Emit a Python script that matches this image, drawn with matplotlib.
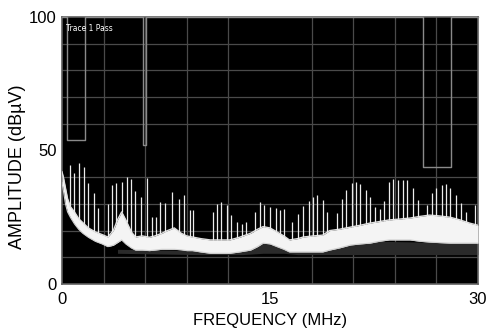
import numpy as np
import matplotlib
matplotlib.use("Agg")
import matplotlib.pyplot as plt

# ---- data ----
band_f = [0, 0.1, 0.25, 0.4, 0.6, 0.9, 1.2, 1.5, 1.9, 2.4, 2.9, 3.3, 3.7, 4.0, 4.3, 4.6,
          5.0, 5.3, 5.8, 6.3, 6.7, 7.2, 7.6, 8.1, 8.6, 9.0, 9.4, 10.0, 10.7, 11.4, 12.1,
          12.8, 13.6, 14.1, 14.5, 15.0, 15.5, 16.0, 16.4, 17.0, 17.4, 18.1, 18.8, 19.3,
          20.0, 20.8, 21.5, 22.2, 22.9, 23.6, 24.3, 25.1, 25.8, 26.5, 27.2, 28.0, 28.7,
          29.4, 30]
band_top = [42, 40, 36, 32, 29, 27, 24.5, 23, 21, 19.5, 18.5, 17.6, 20, 24, 27, 24,
            19.5, 17.6, 18, 17.5, 18, 19, 20, 21, 19, 18, 17.6, 17, 16.5, 16.5, 16.5,
            17.5, 19, 20.5, 21.5, 21, 19.5, 18, 16.5, 17, 17.6, 18, 18.3, 20,
            20.5, 21.3, 22, 22.8, 23.4, 24, 24.3, 24.7, 25.3, 25.8, 25.5, 25, 24,
            22.8, 22]
band_bot = [38, 35, 30, 27, 25, 22.5, 20.5, 19, 17.5, 16, 15, 14, 14.5, 15.5, 16.5, 15,
            13.5, 12.7, 12.7, 12.5, 12.7, 13, 13, 13, 12.8, 12.5, 12.5, 12, 11.5, 11.5, 11.5,
            12, 12.7, 14, 15.3, 15, 14, 13, 12, 12, 12, 12, 12, 12.7,
            13.5, 14.6, 15, 15.3, 16, 16.5, 16.5, 16.5, 16, 15.7, 15.5, 15.3, 15.3,
            15.3, 15.3]

floor_f = [4.0, 10.0, 13.0, 14.5, 16.0, 17.0, 20.0, 23.0, 26.0, 30.0]
floor_top = [13.0, 12.5, 13.5, 15.3, 13.5, 12.5, 14.5, 16.0, 15.7, 15.3]
floor_bot = [11.5, 11.0, 11.0, 11.5, 11.5, 11.0, 11.0, 11.0, 11.0, 11.0]

spike_f = [0.58, 0.89, 1.23, 1.61, 1.9, 2.3, 2.6, 3.3, 3.6, 3.9, 4.3, 4.67, 5.0, 5.3,
           5.7, 6.15, 6.5, 6.8, 7.07, 7.4, 7.9, 8.46, 8.8, 9.2, 9.47, 10.9, 11.2, 11.5,
           11.9, 12.2, 12.6, 13.0, 13.3, 13.9, 14.3, 14.6, 15.0, 15.4, 15.7, 16.0, 16.6,
           17.0, 17.4, 17.8, 18.1, 18.4, 18.8, 19.1, 19.8, 20.2, 20.5, 20.9, 21.2, 21.5,
           21.9, 22.2, 22.6, 22.9, 23.2, 23.6, 23.9, 24.25, 24.6, 24.9, 25.3, 25.65, 26.3,
           26.7, 27.0, 27.4, 27.7, 28.0, 28.4, 28.75, 29.1, 29.8]
spike_db = [44.6, 41.5, 45.3, 43.8, 38, 34, 28.5, 30, 37, 37.8, 38.3, 40, 39.2, 35,
            32.7, 39.6, 25, 25, 30.7, 30.3, 34.5, 31.8, 33.3, 27.7, 27.7, 27, 30, 30.8,
            29.6, 25.8, 23.3, 22.5, 23.3, 27, 30.8, 29.6, 29, 28.3, 27.7, 28, 23.3,
            26.2, 29.2, 31, 32.7, 33.5, 31.4, 27, 26.7, 31.7, 35.2, 38, 38.3, 37.5,
            35.2, 32.7, 29, 28, 31, 38.3, 39.2, 39, 39, 38.8, 35.8, 31.5, 29.6,
            34, 35.8, 37, 37.5, 35.8, 33.3, 30.2, 27, 29.6]

limit_f = [0, 0.36, 0.36, 1.66, 1.66, 5.84, 5.84, 6.06, 6.06, 26.0, 26.0, 28.05, 28.05, 30]
limit_db = [100, 100, 54, 54, 100, 100, 52, 52, 100, 100, 44, 44, 100, 100]

x_ticks = [0, 15, 30]
y_ticks = [0, 50, 100]

plt.rcParams['font.family'] = ['Liberation Sans', 'DejaVu Sans']

fig = plt.figure(figsize=(4.87, 3.35), dpi=100)
ax = fig.add_axes([62/487, 1-284/335, 416/487, 267/335])
ax.set_facecolor('black')

ax.set_xlim(0, 30)
ax.set_ylim(0, 100)
ax.set_xticks(np.arange(0, 30.01, 3), minor=True)
ax.set_yticks(np.arange(0, 100.01, 10), minor=True)
ax.grid(which='minor', color='#4a4a4a', lw=0.9)
ax.set_xticks(x_ticks)
ax.set_yticks(y_ticks)
ax.set_axisbelow(True)

ax.fill_between(floor_f, floor_bot, floor_top, color='#2a2a2a', lw=0, zorder=2)
ax.fill_between(band_f, band_bot, band_top, color='#f4f4f4', lw=0, zorder=3)
ax.plot(band_f, band_top, color='#e0e0e0', lw=1.0, zorder=3)
ax.plot(band_f, band_bot, color='#d0d0d0', lw=0.8, zorder=3)
base = np.interp(spike_f, band_f, band_top)
ax.vlines(spike_f, base, spike_db, color='#ececec', lw=0.9, zorder=4)

ax.plot(limit_f, limit_db, color='#8a8a8a', lw=1.0, zorder=5, clip_on=False)

ax.text(0.3, 97.5, 'Trace 1 Pass', color='white', fontsize=5.5, va='top', ha='left',
        family=['DejaVu Sans'], zorder=6)

for s in ax.spines.values():
    s.set_color('#606060')
    s.set_linewidth(1.2)

ax.tick_params(which='both', length=0, labelsize=12, pad=4, colors='black')
ax.tick_params(axis='x', pad=6)
ax.set_xlabel('FREQUENCY (MHz)', fontsize=12, labelpad=4)
ax.set_ylabel('AMPLITUDE (dBµV)', fontsize=13, labelpad=3)
ax.yaxis.set_label_coords(-0.087, 0.44)

fig.savefig('out.png', dpi=100)
